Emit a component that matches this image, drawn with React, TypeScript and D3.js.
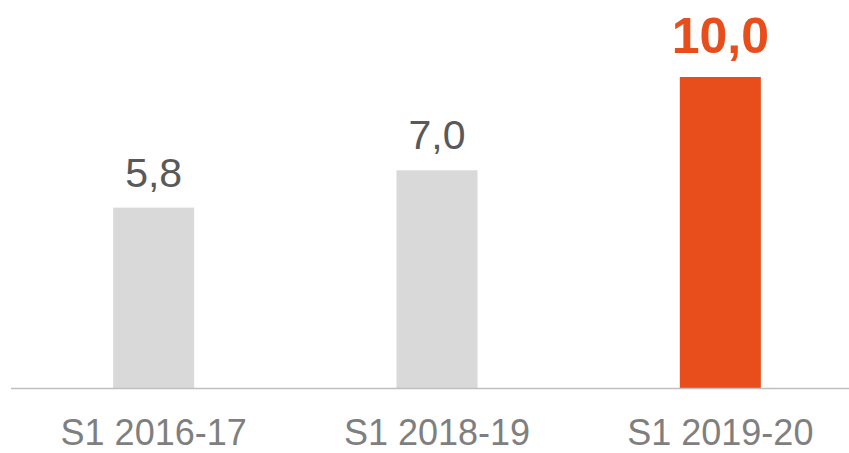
import React from "react";
import * as d3 from "d3";

const categories = ["S1 2016-17", "S1 2018-19", "S1 2019-20"];
const values = [5.8, 7.0, 10.0];
const valueLabels = ["5,8", "7,0", "10,0"];
const highlight = [false, false, true];

export default function App() {
  const W = 849, H = 453;
  const baseY = 388;
  const x = d3.scaleBand<string>().domain(categories).range([12, 862]).paddingInner(0.714).paddingOuter(0.357);
  const y = d3.scaleLinear().domain([0, 10]).range([baseY, 77]);
  const font = "'Liberation Sans', Arial, Helvetica, sans-serif";
  return (
    <svg width={W} height={H} style={{ position: "absolute", left: 0, top: 0, background: "#fff" }}>
      {categories.map((c, i) => {
        const bx = x(c)!;
        const bw = x.bandwidth();
        const top = y(values[i]);
        const hl = highlight[i];
        return (
          <g key={c}>
            <rect x={bx} y={top} width={bw} height={baseY - top} fill={hl ? "#E84E1B" : "#D9D9D9"} />
            <text
              x={bx + bw / 2}
              y={top - (hl ? 24 : 21)}
              textAnchor="middle"
              fontFamily={font}
              fontSize={hl ? 50 : 41}
              fontWeight={hl ? "bold" : "normal"}
              fill={hl ? "#E84E1B" : "#595959"}
            >
              {valueLabels[i]}
            </text>
            <text x={bx + bw / 2} y={445} textAnchor="middle" fontFamily={font} fontSize={36} fill="#7F7F7F">
              {c}
            </text>
          </g>
        );
      })}
      <line x1={11} x2={W} y1={baseY + 0.5} y2={baseY + 0.5} stroke="#BFBFBF" strokeWidth={1.5} />
    </svg>
  );
}
